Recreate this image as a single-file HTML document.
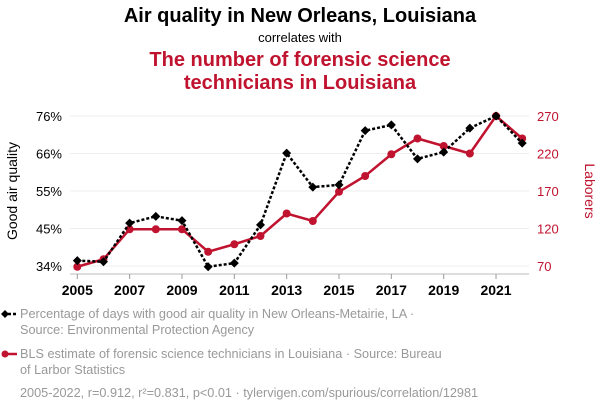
<!DOCTYPE html>
<html><head><meta charset="utf-8"><style>
body{margin:0;background:#fff;width:600px;height:414px;overflow:hidden;font-family:"Liberation Sans",sans-serif}
svg text{font-family:"Liberation Sans",sans-serif}
</style></head><body>
<svg width="600" height="414">
<text x="300" y="22" text-anchor="middle" font-size="20" font-weight="bold" fill="#000">Air quality in New Orleans, Louisiana</text>
<text x="300" y="42" text-anchor="middle" font-size="13" fill="#000">correlates with</text>
<text x="300" y="66" text-anchor="middle" font-size="20" font-weight="bold" fill="#c0132f">The number of forensic science</text>
<text x="300" y="89" text-anchor="middle" font-size="20" font-weight="bold" fill="#c0132f">technicians in Louisiana</text>
<g id="grid"></g>
<line x1="70" y1="274" x2="529" y2="274" stroke="#bbb"/>
<g id="xt"></g><g id="lt"></g><g id="rt"></g>
<text transform="translate(17,191) rotate(-90)" text-anchor="middle" font-size="14" fill="#000">Good air quality</text>
<text transform="translate(585,191) rotate(90)" text-anchor="middle" font-size="14" fill="#c0132f">Laborers</text>
<g id="series"></g>
<g>
<line x1="3" y1="314" x2="17" y2="314" stroke="#000" stroke-width="2.5" stroke-dasharray="3,2"/>
<path d="M5,310 L9,314 L5,318 L1,314Z" fill="#000"/>
<text x="20" y="318" font-size="12.7" fill="#999">Percentage of days with good air quality in New Orleans-Metairie, LA ·</text>
<text x="20" y="334" font-size="12.7" fill="#999">Source: Environmental Protection Agency</text>
</g>
<g>
<line x1="3" y1="354" x2="17" y2="354" stroke="#c0132f" stroke-width="2.5"/>
<circle cx="5" cy="354" r="3.5" fill="#c0132f"/>
<text x="20" y="358" font-size="12.7" fill="#999">BLS estimate of forensic science technicians in Louisiana · Source: Bureau</text>
<text x="20" y="374" font-size="12.7" fill="#999">of Larbor Statistics</text>
</g>
<text x="20" y="397" font-size="12.7" fill="#999">2005-2022, r=0.912, r²=0.831, p&lt;0.01 · tylervigen.com/spurious/correlation/12981</text>
</svg>
<script>
const years=[2005,2006,2007,2008,2009,2010,2011,2012,2013,2014,2015,2016,2017,2018,2019,2020,2021,2022];
const airQuality=[35.9,35.6,46.4,48.3,47.1,34.2,35.2,45.9,66.0,56.5,57.1,72.3,73.9,64.4,66.3,73.0,76.4,68.8];
const technicians=[69,79,119,119,119,89,99,110,140,130,169,190,219,240,230,220,270,240];
const xTicks=[2005,2007,2009,2011,2013,2015,2017,2019,2021];
const leftTicks=[34.4,44.9,55.4,65.9,76.4];
const leftLabels=["34%","45%","55%","66%","76%"];
const rightTicks=[70,120,170,220,270];
const NS="http://www.w3.org/2000/svg";
const X=y=>77.3+(y-2005)*26.17;
const YL=v=>266-(v-34.4)/42*150;
const YR=v=>266-(v-70)/200*150;
function mk(t,a,p){const e=document.createElementNS(NS,t);for(const k in a)e.setAttribute(k,a[k]);p.appendChild(e);return e;}
const grid=document.getElementById('grid'),xt=document.getElementById('xt'),lt=document.getElementById('lt'),rt=document.getElementById('rt'),ser=document.getElementById('series');
rightTicks.forEach((v,i)=>{const g=mk('line',{x1:70,x2:529,y1:YR(v),y2:YR(v),stroke:'#eee'},grid);


const t=mk('text',{x:537,y:YR(v)+5,'font-size':13,fill:'#c0132f'},rt);t.textContent=v;

});
leftTicks.forEach((v,i)=>{const t=mk('text',{x:62,y:YL(v)+5,'font-size':13,fill:'#000','text-anchor':'end'},lt);t.textContent=leftLabels[i];

});
xTicks.forEach(y=>{mk('line',{x1:X(y),x2:X(y),y1:274,y2:279,stroke:'#999'},xt);
const t=mk('text',{x:X(y),y:295,'font-size':14,'font-weight':'bold',fill:'#000','text-anchor':'middle'},xt);t.textContent=y;

});
const rl=mk('polyline',{points:years.map((y,i)=>X(y)+','+YR(technicians[i])).join(' '),fill:'none',stroke:'#c0132f','stroke-width':2.5},ser);


years.forEach((y,i)=>{const c=mk('circle',{cx:X(y),cy:YR(technicians[i]),r:4,fill:'#c0132f'},ser);

});
const bl=mk('polyline',{points:years.map((y,i)=>X(y)+','+YL(airQuality[i])).join(' '),fill:'none',stroke:'#000','stroke-width':2.5,'stroke-dasharray':'3,2'},ser);


years.forEach((y,i)=>{const x=X(y),v=YL(airQuality[i]);const d=mk('path',{d:`M${x},${v-4.5} L${x+4.5},${v} L${x},${v+4.5} L${x-4.5},${v}Z`,fill:'#000'},ser);

});
</script>
</body></html>
